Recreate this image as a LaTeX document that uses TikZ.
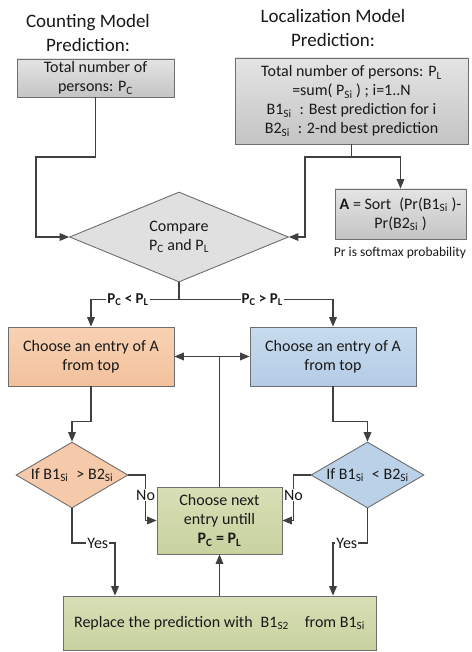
\documentclass[tikz,border=0pt]{standalone}
\usepackage{fontspec}
\setmainfont{Carlito}
\usetikzlibrary{arrows}
\usetikzlibrary{shapes}
\usetikzlibrary{calc}
\definecolor{LineGray}{HTML}{404040}
\definecolor{EdgeGray}{HTML}{6E6E6E}
\definecolor{GrayTop}{HTML}{E4E4E4}
\definecolor{GrayBot}{HTML}{C4C4C4}
\definecolor{OrangeTop}{HTML}{F8D2B4}
\definecolor{OrangeBot}{HTML}{F2C19C}
\definecolor{BlueTop}{HTML}{C8DBEE}
\definecolor{BlueBot}{HTML}{B3CCE5}
\definecolor{GreenTop}{HTML}{D8DFB6}
\definecolor{GreenBot}{HTML}{C8D29F}
\tikzstyle{MainText}=[font=\fontsize{16}{19}\selectfont, text=black!90, align=center]
\tikzstyle{TitleText}=[font=\fontsize{19}{23.5}\selectfont, text=black!90, align=center]
\tikzstyle{Box}=[MainText, rectangle, draw=EdgeGray, line width=0.9pt, inner sep=0pt]
\tikzstyle{GrayBox}=[Box, top color=GrayTop, bottom color=GrayBot]
\tikzstyle{OrangeBox}=[Box, top color=OrangeTop, bottom color=OrangeBot]
\tikzstyle{BlueBox}=[Box, top color=BlueTop, bottom color=BlueBot]
\tikzstyle{GreenBox}=[Box, top color=GreenTop, bottom color=GreenBot]
\tikzstyle{Decision}=[Box, diamond, inner sep=0pt]
\tikzstyle{Line}=[draw=LineGray, line width=1.2pt]
\tikzstyle{Edge}=[Line, -triangle 45]
\tikzstyle{BothEdge}=[Line, triangle 45-triangle 45]
\tikzstyle{EdgeLabel}=[MainText, fill=white, inner sep=1pt]
\tikzstyle{CaseLabel}=[EdgeLabel, font=\fontsize{15}{17}\selectfont\bfseries]

\begin{document}
\begin{tikzpicture}[x=1pt, y=-1pt]
\useasboundingbox (0,0) rectangle (471,652);

% inputs
\node[TitleText](CountTitle) at (88,33) {Counting Model\\Prediction:};
\node[TitleText](LocTitle) at (333,28) {Localization Model\\Prediction:};
\node[GrayBox, minimum width=157pt, minimum height=38pt](CountBox) at (95.5,78) {Total number of\\persons: P\textsubscript{C}};
\node[GrayBox, minimum width=233pt, minimum height=86pt](LocBox) at (351.5,101) {Total number of persons: P\textsubscript{L}\\=sum( P\textsubscript{Si} ) ; i=1..N\\B1\textsubscript{Si}\enspace: Best prediction for i\\B2\textsubscript{Si}\enspace: 2-nd best prediction};
\node[GrayBox, minimum width=131pt, minimum height=50pt](SortBox) at (400.5,214) {\textbf{A} = Sort\enspace(Pr(B1\textsubscript{Si} )-\\Pr(B2\textsubscript{Si} )};
\node[MainText, font=\fontsize{13.5}{15}\selectfont](SoftNote) at (400,253) {Pr is softmax probability};

% compare
\node[Decision, fill=black!12, shape aspect=2.43, minimum width=219pt, minimum height=90pt](Compare) at (179,237) {Compare\\P\textsubscript{C} and P\textsubscript{L}};

% choose entry
\node[OrangeBox, minimum width=166pt, minimum height=59pt](OrangeChoose) at (91,356.5) {Choose an entry of A\\from top};
\node[BlueBox, minimum width=166pt, minimum height=59pt](BlueChoose) at (333,356.5) {Choose an entry of A\\from top};

% checks
\node[Decision, fill=OrangeBot!85!white, shape aspect=1.7, minimum width=112pt, minimum height=66pt](OrangeIf) at (72,475) {If B1\textsubscript{Si}\enspace > B2\textsubscript{Si}};
\node[Decision, fill=BlueBot!90!white, shape aspect=1.7, minimum width=113pt, minimum height=66pt](BlueIf) at (367.5,475) {If B1\textsubscript{Si}\enspace < B2\textsubscript{Si}};
\node[GreenBox, minimum width=125pt, minimum height=67pt](NextBox) at (219.5,520.5) {Choose next\\entry untill\\\textbf{P\textsubscript{C} = P\textsubscript{L}}};
\node[GreenBox, minimum width=313pt, minimum height=54pt](ReplaceBox) at (219.5,623) {Replace the prediction with\enspace B1\textsubscript{S2}\quad from B1\textsubscript{Si}};

\coordinate (LeftYes) at (115,543);
\coordinate (RightYes) at (333,543);

\draw[Edge](CountBox.south) |- (36,157) |- (Compare.west);
\draw[Edge](LocBox.south) |- (305,157) |- (Compare.east);
\draw[Edge](LocBox.south) |- (SortBox.north |- 0,157) -- (SortBox.north);

\draw[Edge](Compare.south) -- ++(0,17) -| node[CaseLabel, pos=0.29]{P\textsubscript{C} < P\textsubscript{L}} (OrangeChoose.north);
\draw[Edge](Compare.south) -- ++(0,17) -| node[CaseLabel, pos=0.27]{P\textsubscript{C} > P\textsubscript{L}} (BlueChoose.north);

\draw[BothEdge](OrangeChoose.east) -- (BlueChoose.west);
\draw[Line](NextBox.north) -- (NextBox.north |- OrangeChoose.east);

\draw[Edge](OrangeChoose.south) -- ++(0,35) -| (OrangeIf.north);
\draw[Edge](BlueChoose.south) -- ++(0,35) -| (BlueIf.north);

\draw[Edge](OrangeIf.east) -| node[EdgeLabel, pos=0.72]{No} ([xshift=-11pt]NextBox.west) -- (NextBox.west);
\draw[Edge](BlueIf.west) -| node[EdgeLabel, pos=0.72]{No} ([xshift=11pt]NextBox.east) -- (NextBox.east);

\draw[Edge](OrangeIf.south) |- node[EdgeLabel, pos=0.8]{Yes} (LeftYes) -- (LeftYes |- ReplaceBox.north);
\draw[Edge](BlueIf.south) |- node[EdgeLabel, pos=0.8]{Yes} (RightYes) -- (RightYes |- ReplaceBox.north);
\draw[Edge](ReplaceBox.north) -- (NextBox.south);

\end{tikzpicture}
\end{document}
